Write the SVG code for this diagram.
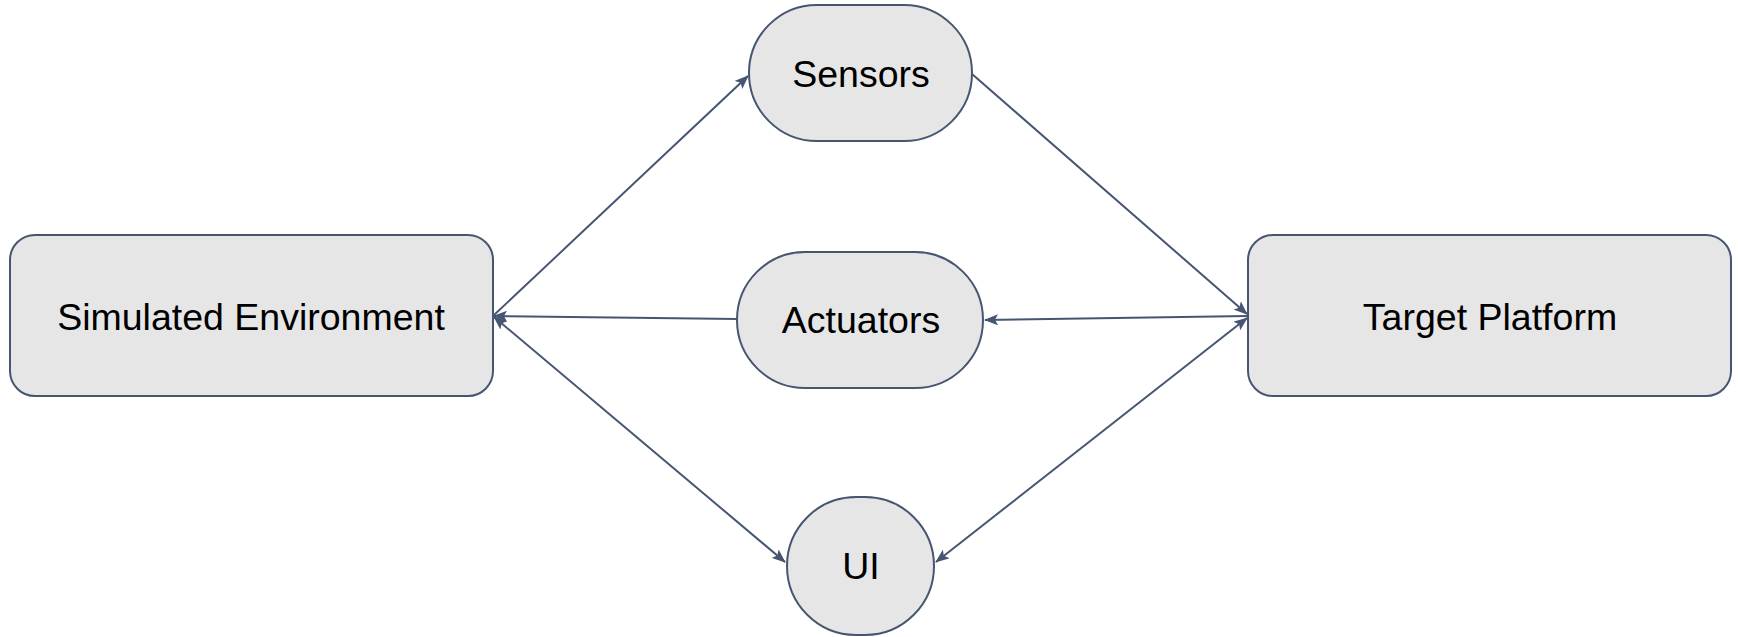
<svg xmlns="http://www.w3.org/2000/svg" width="1738" height="637" viewBox="0 0 1738 637">
<style>
.n{fill:#e6e6e6;stroke:#475670;stroke-width:2}
.t{font-family:"Liberation Sans",Arial,sans-serif;font-size:37.5px;fill:#000;text-anchor:middle}
.c{stroke:#475670;stroke-width:2;fill:none}
</style>
<defs>
<marker id="ah" viewBox="0 0 14 11" refX="13" refY="5.5" markerWidth="14" markerHeight="11" markerUnits="userSpaceOnUse" orient="auto-start-reverse">
<path d="M0,0 L14,5.5 L0,11 L3,5.5 Z" fill="#475670"/>
</marker>
</defs>
<rect width="1738" height="637" fill="#fff"/>
<g id="connectors">
<line class="c" x1="493" y1="316" x2="748" y2="76" marker-end="url(#ah)"/>
<line class="c" x1="737" y1="319" x2="494" y2="316" marker-end="url(#ah)"/>
<line class="c" x1="972" y1="74" x2="1247" y2="314" marker-end="url(#ah)"/>
<line class="c" x1="1248" y1="316" x2="985" y2="320" marker-end="url(#ah)"/>
<line class="c" x1="494" y1="317" x2="785" y2="562" marker-start="url(#ah)" marker-end="url(#ah)"/>
<line class="c" x1="1247" y1="318" x2="936" y2="562" marker-start="url(#ah)" marker-end="url(#ah)"/>
</g>
<g id="sim-env">
<rect class="n" x="10" y="235" width="483" height="161" rx="25"/>
<text class="t" x="251" y="330">Simulated Environment</text>
</g>
<g id="sensors">
<rect class="n" x="749" y="5" width="223" height="136" rx="68"/>
<text class="t" x="861" y="87">Sensors</text>
</g>
<g id="actuators">
<rect class="n" x="737" y="252" width="246" height="136" rx="68"/>
<text class="t" x="861" y="333">Actuators</text>
</g>
<g id="ui">
<rect class="n" x="787" y="497" width="147" height="138" rx="69"/>
<text class="t" x="861" y="579">UI</text>
</g>
<g id="target">
<rect class="n" x="1248" y="235" width="483" height="161" rx="25"/>
<text class="t" x="1490" y="330">Target Platform</text>
</g>
</svg>
